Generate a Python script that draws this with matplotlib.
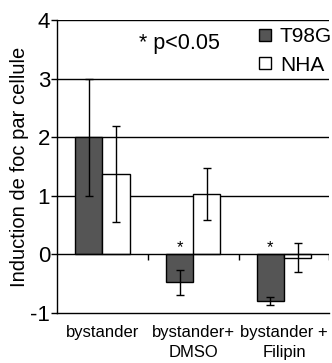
import matplotlib

matplotlib.use("Agg")
import matplotlib.pyplot as plt
import numpy as np
from matplotlib.lines import Line2D

plt.rcParams["font.family"] = ["Liberation Sans", "DejaVu Sans"]

categories = ["bystander", "bystander+\nDMSO", "bystander +\nFilipin"]
t98g = [2.0, -0.48, -0.80]
t98g_err = [1.0, 0.21, 0.07]
nha = [1.37, 1.03, -0.06]
nha_err = [0.82, 0.45, 0.25]
signif = [False, True, True]

fig = plt.figure(figsize=(3.32, 3.63), dpi=100)
ax = fig.add_axes([0.172, 0.138, 0.82, 0.807])

x = np.arange(len(categories))
w = 0.3
ax.bar(x - w / 2, t98g, w, color="#555555", edgecolor="black", lw=1, zorder=3)
ax.bar(x + w / 2, nha, w, color="white", edgecolor="black", lw=1, zorder=3)
ax.errorbar(x - w / 2, t98g, yerr=t98g_err, fmt="none", ecolor="black",
            elinewidth=1, capsize=3, capthick=1, zorder=4)
ax.errorbar(x + w / 2, nha, yerr=nha_err, fmt="none", ecolor="black",
            elinewidth=1, capsize=3, capthick=1, zorder=4)

for xi, s in zip(x, signif):
    if s:
        ax.text(xi - w / 2, 0.12, "*", ha="center", va="center", fontsize=12)

ax.set_xlim(-0.5, 2.5)
ax.set_ylim(-1, 4)
ax.set_yticks([-1, 0, 1, 2, 3, 4])
ax.set_yticklabels(["-1", "0", "1", "2", "3", "4"], fontsize=16)
for yv in [1, 2, 3, 4]:
    ax.axhline(yv, color="black", lw=1, zorder=1)
ax.axhline(0, color="black", lw=1, zorder=5)
# small downward ticks on the zero line between categories
ax.vlines(x + 0.5, -0.1, 0, color="black", lw=1, zorder=5)

ax.set_xticks(x)
ax.set_xticklabels(categories, fontsize=12, linespacing=1.35)
ax.tick_params(axis="x", length=0, pad=9)
ax.tick_params(axis="y", length=4, width=1, pad=1)
for s in ["top", "right"]:
    ax.spines[s].set_visible(False)
ax.spines["left"].set_linewidth(1)
ax.spines["bottom"].set_linewidth(1)

ax.set_ylabel("Induction de foc par cellule", fontsize=14.5, labelpad=1)

ax.text(0.30, 0.92, "* p<0.05", transform=ax.transAxes, fontsize=15.5,
        ha="left", va="center")
handles = [
    Line2D([], [], marker="s", ls="none", markersize=9, markerfacecolor="#555555",
           markeredgecolor="black"),
    Line2D([], [], marker="s", ls="none", markersize=9, markerfacecolor="white",
           markeredgecolor="black"),
]
ax.legend(handles, ["T98G", "NHA"], loc="upper right", bbox_to_anchor=(1.0, 0.925),
          bbox_transform=fig.transFigure, frameon=False, fontsize=15,
          handlelength=0.8, handletextpad=0.3, labelspacing=0.45,
          borderaxespad=0, borderpad=0)

fig.savefig("out.png", dpi=100)
